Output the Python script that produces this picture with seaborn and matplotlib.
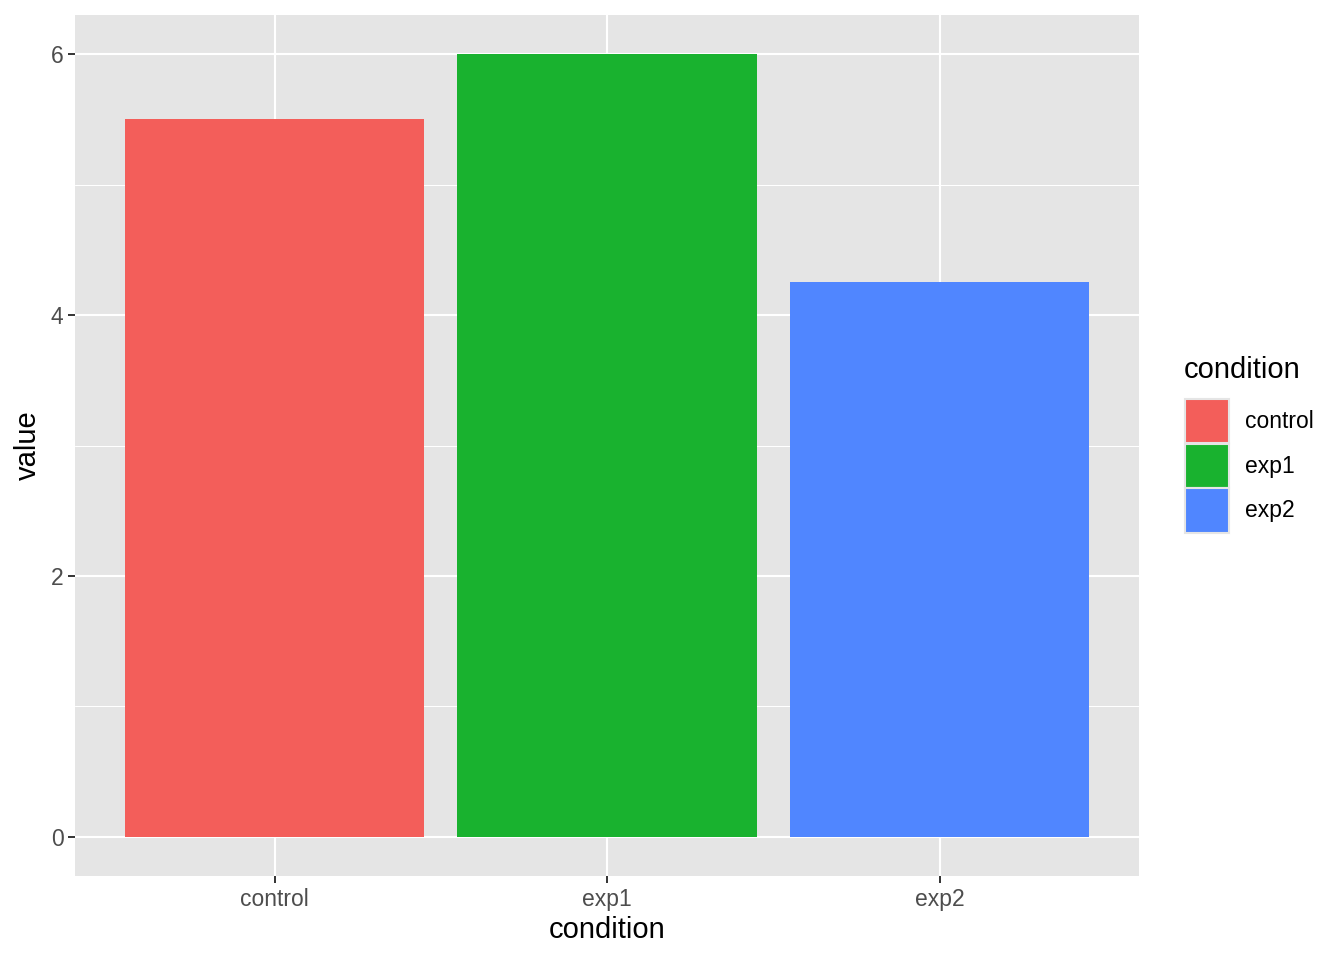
import pandas as pd
import matplotlib.pyplot as plt
import matplotlib.patches as mpatches
import seaborn as sns

conditions = ["control", "exp1", "exp2"]
values = [5.5, 6.0, 4.25]
colors = ["#F35E5A", "#19B22F", "#5086FF"]

df = pd.DataFrame({"condition": conditions, "value": values})

sns.set_theme(style="darkgrid")
plt.rcParams["font.family"] = ["Liberation Sans", "DejaVu Sans"]

fig = plt.figure(figsize=(13.44, 9.6), dpi=100)
ax = fig.add_axes([75 / 1344, 1 - 876 / 960, (1139 - 75) / 1344, (876 - 15) / 960])
ax.set_facecolor("#E5E5E5")

sns.barplot(
    data=df,
    x="condition",
    y="value",
    hue="condition",
    palette=colors,
    width=0.9,
    saturation=1,
    legend=False,
    linewidth=0,
    ax=ax,
    zorder=3,
)

ax.set_xlim(-0.6, 2.6)
ax.set_ylim(-0.3, 6.3)
ax.set_yticks([0, 2, 4, 6])
ax.set_yticks([1, 3, 5], minor=True)
ax.grid(which="major", color="white", linewidth=1.5, zorder=0)
ax.grid(which="minor", axis="y", color="white", linewidth=0.75, zorder=0)
ax.set_axisbelow(True)
for s in ax.spines.values():
    s.set_visible(False)

ax.tick_params(
    which="major",
    bottom=True,
    left=True,
    direction="out",
    length=5.3,
    width=1.4,
    color="#333333",
    labelcolor="#4D4D4D",
    labelsize=16.5,
    pad=3,
)
ax.tick_params(which="minor", length=0)
ax.set_xlabel("condition", fontsize=21, color="black", labelpad=4)
ax.set_ylabel("value", fontsize=21, color="black", labelpad=6)

# legend title drawn separately to get the ggplot spacing
fig.text(1184 / 1344, 1 - 370 / 960, "condition", fontsize=21, color="black",
         ha="left", va="center")

handles = [
    mpatches.Patch(facecolor=c, edgecolor="#E5E5E5", linewidth=1.5, label=l)
    for c, l in zip(colors, conditions)
]
fig.legend(
    handles=handles,
    loc="upper left",
    bbox_to_anchor=(1185 / 1344, 1 - 399 / 960),
    borderaxespad=0,
    borderpad=0,
    frameon=False,
    fontsize=16.5,
    handlelength=1.9,
    handleheight=2.58,
    handletextpad=0.7,
    labelspacing=0.03,
    labelcolor="black",
)

fig.savefig("out.png", dpi=100)
